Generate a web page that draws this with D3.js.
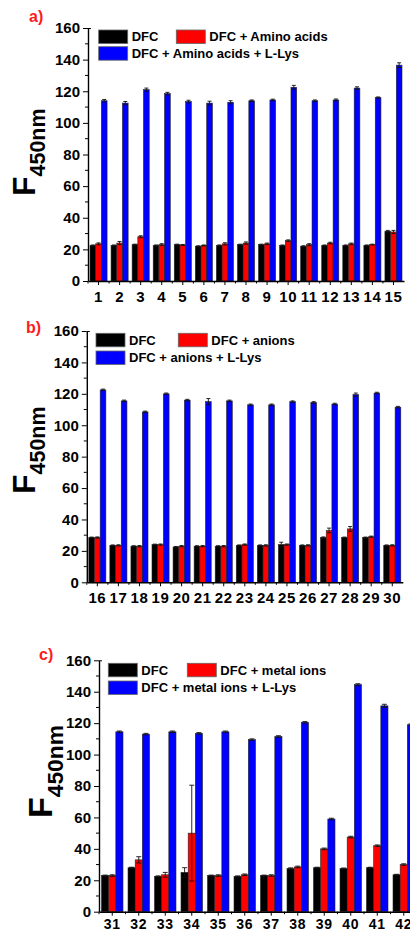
<!DOCTYPE html>
<html>
<head>
<meta charset="utf-8">
<script src="https://cdn.jsdelivr.net/npm/d3@7"></script>
<style>
  body { margin: 0; background: #fff; }
  svg { display: block; }
  text { font-family: "Liberation Sans", Arial, sans-serif; font-weight: bold; }
</style>
</head>
<body>
<svg id="chart" width="410" height="932"></svg>
<script>
// ---- data ----
const seriesKeys = ["dfc", "mix", "lys"];
const yTicks = [0, 20, 40, 60, 80, 100, 120, 140, 160];

// panel a) amino acids
const catsA = ["1","2","3","4","5","6","7","8","9","10","11","12","13","14","15"];
const dfcA  = [22.5, 22.5, 23, 22.5, 23, 22, 22.5, 23, 23, 22.5, 22, 22.5, 22.5, 22.5, 31.5];
const mixA  = [23.5, 24, 28, 23, 22.8, 22.5, 23.5, 24, 23.5, 25.5, 23, 24, 23.5, 23, 31];
const lysA  = [114, 112.5, 121, 118.5, 113.5, 112.5, 113, 114, 114.5, 122.5, 114, 114.5, 122, 116, 136.5];
const dfcErrA = [0.3, 0.3, 0.3, 0.3, 0.3, 0.3, 0.3, 0.3, 0.3, 0.3, 0.3, 0.3, 0.3, 0.3, 0.5];
const mixErrA = [0.6, 1, 0.6, 0.6, 0.3, 0.3, 0.7, 0.7, 0.5, 0.5, 0.6, 0.5, 0.5, 0.3, 1];
const lysErrA = [0.8, 1, 1, 0.8, 0.8, 1.2, 1, 0.5, 0.5, 1.2, 0.5, 0.6, 0.8, 0.4, 1.5];

// panel b) anions
const catsB = ["16","17","18","19","20","21","22","23","24","25","26","27","28","29","30"];
const dfcB  = [28.5, 23.5, 23, 24, 22.5, 23, 23, 23.5, 23.5, 24, 23.5, 28.5, 28.5, 28.5, 23.5];
const mixB  = [28.5, 23.5, 23, 24, 23, 23, 23, 24, 23.5, 24, 23.5, 33, 34, 29, 23.5];
const lysB  = [122.5, 115.5, 108.5, 120, 116, 115, 115.5, 113, 113, 115, 114.5, 113.5, 119.5, 120.5, 111.5];
const dfcErrB = [0.3, 0.3, 0.3, 0.3, 0.3, 0.3, 0.3, 0.3, 0.3, 1.5, 0.3, 0.4, 0.3, 0.3, 0.3];
const mixErrB = [0.4, 0.4, 0.4, 0.4, 0.4, 0.4, 0.4, 0.4, 0.4, 0.4, 0.4, 1.5, 1.5, 0.4, 0.4];
const lysErrB = [0.5, 0.5, 0.5, 0.5, 0.5, 2, 0.5, 0.5, 0.5, 0.5, 0.5, 0.5, 1, 0.5, 0.5];

// panel c) metal ions
const catsC = ["31","32","33","34","35","36","37","38","39","40","41","42"];
const dfcC  = [23, 28, 22.5, 25, 23, 22.5, 23, 27.5, 28, 27.5, 28, 23.5];
const mixC  = [23, 33, 23.5, 50, 23, 23.5, 23, 28.5, 40, 47.5, 42, 30];
const lysC  = [114.5, 113, 114.5, 113.5, 114.5, 109.5, 111.5, 120.5, 59, 144.5, 131, 119];
const dfcErrC = [0.3, 0.3, 0.3, 3, 0.3, 0.3, 0.3, 0.4, 0.3, 0.3, 0.3, 0.3];
const mixErrC = [0.5, 2, 1.5, 30.5, 0.5, 0.5, 0.5, 0.5, 0.5, 0.5, 0.5, 0.5];
const lysErrC = [0.5, 0.5, 0.5, 0.5, 0.5, 0.5, 0.5, 0.5, 0.5, 0.6, 1, 0.5];

const colors = { dfc: "#000000", mix: "#ff0000", lys: "#0000ff" };

const svg = d3.select("#chart");

function drawPanel(p){
    const g = svg.append("g");

    // table built from the arrays
    const rows = p.cats.map((c, i) => ({
        cat: c,
        vals: [
            { key: "dfc", v: p.dfc[i], e: p.dfcErr[i] },
            { key: "mix", v: p.mix[i], e: p.mixErr[i] },
            { key: "lys", v: p.lys[i], e: p.lysErr[i] }
        ]
    }));

    const x = d3.scaleBand().domain(p.cats).range([p.x0, p.x1])
        .paddingInner(0.19).paddingOuter(0.095);
    const xs = d3.scaleBand().domain(seriesKeys).range([0, x.bandwidth()]);
    const y = d3.scaleLinear().domain([0, 160]).range([p.yZero, p.yTop]);

    // bars
    const grp = g.selectAll("g.grp").data(rows).join("g")
        .attr("transform", d => `translate(${x(d.cat)},0)`);

    grp.selectAll("rect").data(d => d.vals).join("rect")
        .attr("x", d => xs(d.key))
        .attr("y", d => y(d.v))
        .attr("width", xs.bandwidth())
        .attr("height", d => y(0) - y(d.v))
        .attr("fill", d => colors[d.key])
        .attr("stroke", "#222")
        .attr("stroke-width", 0.6);

    // error bars
    const eb = grp.selectAll("g.err").data(d => d.vals).join("g")
        .attr("stroke", "#111").attr("stroke-width", 0.9);
    const cap = xs.bandwidth() * 0.35;
    eb.append("line")
        .attr("x1", d => xs(d.key) + xs.bandwidth() / 2)
        .attr("x2", d => xs(d.key) + xs.bandwidth() / 2)
        .attr("y1", d => y(d.v - d.e))
        .attr("y2", d => y(d.v + d.e));
    [1, -1].forEach(s => {
        eb.append("line")
            .attr("x1", d => xs(d.key) + xs.bandwidth() / 2 - cap)
            .attr("x2", d => xs(d.key) + xs.bandwidth() / 2 + cap)
            .attr("y1", d => y(d.v + s * d.e))
            .attr("y2", d => y(d.v + s * d.e));
    });

    // y axis
    const yAxis = g.append("g").attr("transform", `translate(${p.x0},0)`)
        .call(d3.axisLeft(y).tickValues(yTicks).tickSize(5).tickPadding(3).tickSizeOuter(0));
    yAxis.selectAll(".tick").filter(d => d == 160).append("line").attr("x2", 3).attr("stroke", "#000");
    // minor y ticks
    g.append("g").selectAll("line").data(d3.range(10, 160, 20)).join("line")
        .attr("x1", p.x0 - 3).attr("x2", p.x0)
        .attr("y1", d => y(d)).attr("y2", d => y(d))
        .attr("stroke", "#000").attr("stroke-width", 1);

    // x axis
    const xAxis = g.append("g").attr("transform", `translate(0,${p.yZero})`)
        .call(d3.axisBottom(x).tickSize(4).tickPadding(p.xPad).tickSizeOuter(0));
    // minor x ticks at group boundaries
    g.append("g").selectAll("line").data(p.cats).join("line")
        .attr("x1", d => x(d) - x.step() * 0.095)
        .attr("x2", d => x(d) - x.step() * 0.095)
        .attr("y1", p.yZero).attr("y2", p.yZero + 2.5)
        .attr("stroke", "#000");

    [yAxis, xAxis].forEach(a => {
        a.select(".domain").attr("stroke-width", 1.4);
        a.selectAll("text").attr("font-size", 15).attr("fill", "#000")
            .style("font-family", "'Liberation Sans', Arial, sans-serif").style("font-weight", "bold");
    });
    xAxis.selectAll("text").attr("letter-spacing", 0.6).attr("font-size", p.xFont);

    // panel letter
    g.append("text").attr("x", p.titleX).attr("y", p.titleY)
        .attr("fill", "#ff1a1a").attr("font-size", 16).text(p.title);

    // y label F450nm
    const yl = g.append("text")
        .attr("transform", `translate(${p.labX},${p.labY}) rotate(-90)`)
        .attr("font-size", p.labSize);
    yl.append("tspan").text("F");
    yl.append("tspan").attr("dy", p.labSize * 0.32).attr("font-size", p.labSize * 0.67).text("450nm");

    // legend
    const leg = [
        { key: "dfc", x: p.legX, y: p.legY, label: "DFC" },
        { key: "mix", x: p.legX2, y: p.legY, label: p.mixLabel },
        { key: "lys", x: p.legX, y: p.legY + p.legDy, label: p.lysLabel }
    ];
    const li = g.append("g").selectAll("g").data(leg).join("g")
        .attr("transform", d => `translate(${d.x},${d.y})`);
    li.append("rect").attr("width", 29).attr("height", 13.5)
        .attr("fill", d => colors[d.key]).attr("stroke", "#666").attr("stroke-width", 0.8);
    li.append("text").attr("x", 33).attr("y", 11.3).attr("font-size", 13).text(d => d.label);
}

drawPanel({
    cats: catsA, dfc: dfcA, mix: mixA, lys: lysA,
    dfcErr: dfcErrA, mixErr: mixErrA, lysErr: lysErrA,
    x0: 88, x1: 404, yTop: 28, yZero: 281, xPad: 6, xFont: 15,
    title: "a)", titleX: 29, titleY: 22,
    labX: 35, labY: 196, labSize: 32,
    legX: 98.7, legX2: 176.3, legY: 30, legDy: 16.7,
    mixLabel: "DFC + Amino acids", lysLabel: "DFC + Amino acids + L-Lys"
});

drawPanel({
    cats: catsB, dfc: dfcB, mix: mixB, lys: lysB,
    dfcErr: dfcErrB, mixErr: mixErrB, lysErr: lysErrB,
    x0: 86.8, x1: 402.8, yTop: 331, yZero: 582.3, xPad: 6, xFont: 15,
    title: "b)", titleX: 26, titleY: 332.5,
    labX: 35, labY: 494, labSize: 32,
    legX: 96, legX2: 178.3, legY: 333.3, legDy: 17.7,
    mixLabel: "DFC + anions", lysLabel: "DFC + anions + L-Lys"
});

drawPanel({
    cats: catsC, dfc: dfcC, mix: mixC, lys: lysC,
    dfcErr: dfcErrC, mixErr: mixErrC, lysErr: lysErrC,
    x0: 99, x1: 417, yTop: 660.3, yZero: 911.7, xPad: 3, xFont: 14,
    title: "c)", titleX: 39, titleY: 660,
    labX: 52, labY: 818, labSize: 34,
    legX: 108.3, legX2: 187.3, legY: 663.3, legDy: 17.7,
    mixLabel: "DFC + metal ions", lysLabel: "DFC + metal ions + L-Lys"
});
</script>
</body>
</html>
